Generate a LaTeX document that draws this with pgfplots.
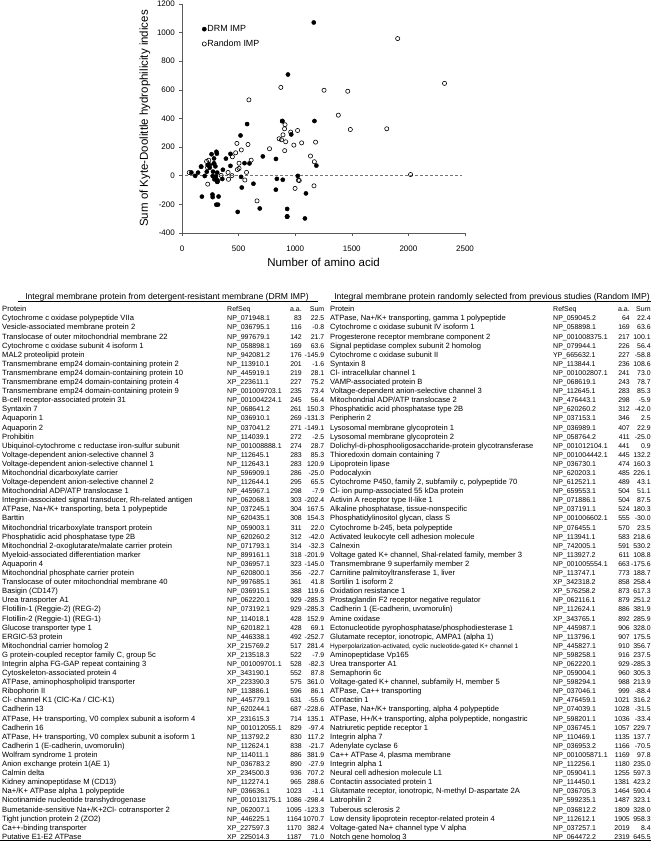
\documentclass[border=0pt]{standalone}
\usepackage{fontspec}
\setmainfont{Liberation Sans}
\usepackage{pgfplots}
\usepackage{pgfplotstable}
\pgfplotsset{compat=1.18}
\catcode`\_=12
\pgfplotstableread[col sep=semicolon]{
name;ref;aa;sum
Cytochrome c oxidase polypeptide VIIa;NP_071948.1;83;22.5
Vesicle-associated membrane protein 2;NP_036795.1;116;-0.8
Translocase of outer mitochondrial membrane 22;NP_997679.1;142;21.7
Cytochrome c oxidase subunit 4 isoform 1;NP_058898.1;169;63.6
MAL2 proteolipid protein;NP_942081.2;176;-145.9
Transmembrane emp24 domain-containing protein 2;NP_113910.1;201;-1.6
Transmembrane emp24 domain-containing protein 10;NP_445919.1;219;28.1
Transmembrane emp24 domain-containing protein 4;XP_223611.1;227;75.2
Transmembrane emp24 domain-containing protein 9;NP_001009703.1;235;73.4
B-cell receptor-associated protein 31;NP_001004224.1;245;56.4
Syntaxin 7;NP_068641.2;261;150.3
Aquaporin 1;NP_036910.1;269;-131.3
Aquaporin 2;NP_037041.2;271;-149.1
Prohibitin;NP_114039.1;272;-2.5
Ubiquinol-cytochrome c reductase iron-sulfur subunit;NP_001008888.1;274;28.7
Voltage-dependent anion-selective channel 3;NP_112645.1;283;85.3
Voltage-dependent anion-selective channel 1;NP_112643.1;283;120.9
Mitochondrial dicarboxylate carrier;NP_596909.1;286;-25.0
Voltage-dependent anion-selective channel 2;NP_112644.1;295;65.5
Mitochondrial ADP/ATP translocase 1;NP_445967.1;298;-7.9
Integrin-associated signal transducer, Rh-related antigen;NP_062068.1;303;-202.4
ATPase, Na+/K+ transporting, beta 1 polypeptide;NP_037245.1;304;167.5
Barttin;NP_620435.1;308;154.3
Mitochondrial tricarboxylate transport protein;NP_059003.1;311;22.0
Phosphatidic acid phosphatase type 2B;NP_620260.2;312;-42.0
Mitochondrial 2-oxoglutarate/malate carrier protein;NP_071793.1;314;-32.3
Myeloid-associated differentiation marker;NP_899161.1;318;-201.9
Aquaporin 4;NP_036957.1;323;-145.0
Mitochondrial phosphate carrier protein;NP_620800.1;356;-22.7
Translocase of outer mitochondrial membrane 40;NP_997685.1;361;41.8
Basigin (CD147);NP_036915.1;388;119.6
Urea transporter A1;NP_062220.1;929;-285.3
Flotillin-1 (Reggie-2) (REG-2);NP_073192.1;929;-285.3
Flotillin-2 (Reggie-1) (REG-1);NP_114018.1;428;152.9
Glucose transporter type 1;NP_620182.1;428;69.1
ERGIC-53 protein;NP_446338.1;492;-252.7
Mitochondrial carrier homolog 2;XP_215769.2;517;281.4
G protein-coupled receptor family C, group 5c;XP_213518.3;522;-7.9
Integrin alpha FG-GAP repeat containing 3;NP_001009701.1;528;-82.3
Cytoskeleton-associated protein 4;XP_343190.1;552;87.8
ATPase, aminophospholipid transporter;XP_223390.3;575;361.0
Ribophorin II;NP_113886.1;596;86.1
Cl- channel K1 (ClC-Ka / ClC-K1);NP_445779.1;631;-55.6
Cadherin 13;NP_620244.1;687;-228.6
ATPase, H+ transporting, V0 complex subunit a isoform 4;XP_231615.3;714;135.1
Cadherin 16;NP_001012055.1;829;-97.4
ATPase, H+ transporting, V0 complex subunit a isoform 1;NP_113792.2;830;117.2
Cadherin 1 (E-cadherin, uvomorulin);NP_112624.1;838;-21.7
Wolfram syndrome 1 protein;NP_114011.1;886;381.9
Anion exchange protein 1(AE 1);NP_036783.2;890;-27.9
Calmin delta;XP_234500.3;936;707.2
Kidney aminopeptidase M (CD13);NP_112274.1;965;288.6
Na+/K+ ATPase alpha 1 polypeptide;NP_036636.1;1023;-1.1
Nicotinamide nucleotide transhydrogenase;NP_001013175.1;1086;-298.4
Bumetanide-sensitive Na+/K+2Cl- cotransporter 2;NP_062007.1;1095;-123.3
Tight junction protein 2 (ZO2);NP_446225.1;1164;1070.7
Ca++-binding transporter;XP_227597.3;1170;382.4
Putative E1-E2 ATPase;XP_225014.3;1187;71.0
}\drm
\pgfplotstableread[col sep=semicolon]{
name;ref;aa;sum
ATPase, Na+/K+ transporting, gamma 1 polypeptide;NP_059045.2;64;22.4
Cytochrome c oxidase subunit IV isoform 1;NP_058898.1;169;63.6
Progesterone receptor membrane component 2;NP_001008375.1;217;100.1
Signal peptidase complex subunit 2 homolog;NP_079944.1;226;56.4
Cytochrome c oxidase subunit II;YP_665632.1;227;-58.8
Syntaxin 8;NP_113844.1;236;108.6
Cl- intracellular channel 1;NP_001002807.1;241;73.0
VAMP-associated protein B;NP_068619.1;243;78.7
Voltage-dependent anion-selective channel 3;NP_112645.1;283;85.3
Mitochondrial ADP/ATP translocase 2;NP_476443.1;298;-5.9
Phosphatidic acid phosphatase type 2B;NP_620260.2;312;-42.0
Peripherin 2;NP_037153.1;346;2.5
Lysosomal membrane glycoprotein 1;NP_036989.1;407;22.9
Lysosomal membrane glycoprotein 2;NP_058764.2;411;-25.0
Dolichyl-di-phosphooligosaccharide-protein glycotransferase;NP_001012104.1;441;0.9
Thioredoxin domain containing 7;NP_001004442.1;445;132.2
Lipoprotein lipase;NP_036730.1;474;160.3
Podocalyxin;NP_620203.1;485;226.1
Cytochrome P450, family 2, subfamily c, polypeptide 70;NP_612521.1;489;43.1
Cl- ion pump-associated 55 kDa protein;NP_659553.1;504;51.1
Activin A receptor type II-like 1;NP_071886.1;504;87.5
Alkaline phosphatase, tissue-nonspecific;NP_037191.1;524;180.3
Phosphatidylinositol glycan, class S;NP_001006602.1;555;-30.0
Cytochrome b-245, beta polypeptide;NP_076455.1;570;23.5
Activated leukocyte cell adhesion molecule;NP_113941.1;583;218.6
Calnexin;NP_742005.1;591;530.2
Voltage gated K+ channel, Shal-related family, member 3;NP_113927.2;611;108.8
Transmembrane 9 superfamily member 2;NP_001005554.1;663;-175.6
Carnitine palmitoyltransferase 1, liver;NP_113747.1;773;188.7
Sortilin 1 isoform 2;XP_342318.2;858;258.4
Oxidation resistance 1;XP_576258.2;873;617.3
Prostaglandin F2 receptor negative regulator;NP_062116.1;879;251.2
Cadherin 1 (E-cadherin, uvomorulin);NP_112624.1;886;381.9
Amine oxidase;XP_343765.1;892;285.9
Ectonucleotide pyrophosphatase/phosphodiesterase 1;NP_445987.1;906;328.0
Glutamate receptor, ionotropic, AMPA1 (alpha 1);NP_113796.1;907;175.5
Hyperpolarization-activated, cyclic nucleotide-gated K+ channel 1;NP_445827.1;910;356.7
Aminopeptidase Vp165;NP_598258.1;916;237.5
Urea transporter A1;NP_062220.1;929;-285.3
Semaphorin 6c;NP_059004.1;960;305.3
Voltage-gated K+ channel, subfamily H, member 5;NP_598294.1;988;213.9
ATPase, Ca++ transporting;NP_037046.1;999;-88.4
Contactin 1;NP_476459.1;1021;316.2
ATPase, Na+/K+ transporting, alpha 4 polypeptide;NP_074039.1;1028;-31.5
ATPase, H+/K+ transporting, alpha polypeptide, nongastric;NP_598201.1;1036;-33.4
Natriuretic peptide receptor 1;NP_036745.1;1057;229.7
Integrin alpha 7;NP_110469.1;1135;137.7
Adenylate cyclase 6;NP_036953.2;1166;-70.5
Ca++ ATPase 4, plasma membrane;NP_001005871.1;1169;97.8
Integrin alpha 1;NP_112256.1;1180;235.0
Neural cell adhesion molecule L1;NP_059041.1;1255;597.3
Contactin associated protein 1;NP_114450.1;1381;423.2
Glutamate receptor, ionotropic, N-methyl D-aspartate 2A;NP_036705.3;1464;590.4
Latrophilin 2;NP_599235.1;1487;323.1
Tuberous sclerosis 2;NP_036812.2;1809;328.0
Low density lipoprotein receptor-related protein 4;NP_112612.1;1905;958.3
Voltage-gated Na+ channel type V alpha;NP_037257.1;2019;8.4
Notch gene homolog 3;NP_064472.2;2319;645.5
}\rnd
\catcode`\_=8

\newcommand\namefont{\fontsize{7.6}{9}\selectfont}
\newcommand\reffont{\fontsize{7.0}{8}\selectfont}
\newcommand\numfont{\fontsize{6.9}{8}\selectfont}
\newcommand\drawtable[6]{%
  \foreach \i in {0,...,57}{%
    \pgfmathsetmacro\yy{522.1-\i*9.095}%
    \pgfplotstablegetelem{\i}{name}\of#1\let\tN\pgfplotsretval
    \pgfplotstablegetelem{\i}{ref}\of#1\let\tR\pgfplotsretval
    \pgfplotstablegetelem{\i}{aa}\of#1\let\tA\pgfplotsretval
    \pgfplotstablegetelem{\i}{sum}\of#1\let\tS\pgfplotsretval
    \ifnum\i=#6\relax\def\nf{\fontsize{6.5}{7}\selectfont}\else\def\nf{\namefont}\fi
    \node[anchor=base west] at (#2pt,\yy pt) {\nf\tN};
    \node[anchor=base west] at (#3pt,\yy pt) {\reffont\tR};
    \node[anchor=base east] at (#4pt,\yy pt) {\numfont\tA};
    \node[anchor=base east] at (#5pt,\yy pt) {\numfont\tS};
  }%
  \node[anchor=base west] at (#2pt,531.4pt) {\namefont Protein};
  \node[anchor=base west] at (#3pt,531.4pt) {\reffont RefSeq};
  \node[anchor=base east] at (#4pt,531.4pt) {\reffont a.a.};
  \node[anchor=base east] at (#5pt,531.4pt) {\reffont Sum};
}

\begin{document}
\begin{tikzpicture}
\path[use as bounding box] (0,0) rectangle (651pt,843pt);
\begin{axis}[
  at={(182pt,610pt)}, anchor=south west,
  width=283pt, height=229pt, scale only axis,
  xmin=0, xmax=2500, ymin=-400, ymax=1200,
  axis lines=left,
  axis line style={-, draw=black!65, line width=0.6pt},
  xtick={0,500,1000,1500,2000,2500},
  xticklabels={0,500,1000,1500,2000,2500},
  ytick={-400,-200,0,200,400,600,800,1000,1200},
  yticklabels={-400,-200,0,200,400,600,800,1000,1200},
  tick align=outside, major tick length=3pt,
  tick style={black!65, line width=0.6pt},
  ticklabel style={font=\fontsize{8}{9}\selectfont},
  xticklabel style={inner sep=0pt, anchor=north, yshift=-9.5pt},
  yticklabel style={inner sep=0pt, anchor=east, xshift=-4pt},
  xlabel={Number of amino acid},
  ylabel={Sum of Kyte-Doolittle hydrophilicity indices},
  label style={font=\fontsize{11.5}{13}\selectfont},
  xlabel style={at={(axis description cs:0.5,-0.1266)}, anchor=center},
  ylabel style={at={(axis description cs:-0.1307,0.5)}, anchor=center},
  legend style={at={(axis description cs:0.0707,0.912)}, anchor=north west,
    draw=none, fill=none, font=\fontsize{8.9}{10}\selectfont,
    inner sep=0pt, row sep=5pt, nodes={inner sep=1pt}},
  legend cell align=left,
  legend image code/.code={\draw[mark repeat=2,mark phase=2,#1] plot coordinates {(0pt,0pt) (2pt,0pt) (4pt,0pt)};},
]
\addlegendimage{only marks, mark=*, mark size=2.1pt, black}
\addlegendentry{DRM IMP}
\addlegendimage{only marks, mark=o, mark size=2.1pt, black, mark options={fill=white, line width=0.6pt}}
\addlegendentry{Random IMP}
\addplot[black!55, dashed, dash pattern=on 3pt off 2pt, line width=0.6pt, forget plot] coordinates {(30,0) (2470,0)};
\addplot[only marks, mark=o, mark size=2.1pt, black, mark options={fill=white, line width=0.6pt}, forget plot] table[x=aa, y=sum] {\rnd};
\addplot[only marks, mark=*, mark size=2.1pt, black, forget plot] table[x=aa, y=sum] {\drm};
\addplot[only marks, mark=*, mark size=2.1pt, black, forget plot] coordinates {(929,-232)};
\end{axis}
\begin{scope}[every node/.style={inner sep=0pt}]
\drawtable{\drm}{2}{227}{302}{324.5}{-1}
\drawtable{\rnd}{330}{553}{630}{650.8}{36}
\node[anchor=base, font=\fontsize{8.6}{10}\selectfont] at (167pt,543.3pt) {Integral membrane protein from detergent-resistant membrane (DRM IMP)};
\node[anchor=base, font=\fontsize{8.6}{10}\selectfont] at (492pt,543.3pt) {Integral membrane protein randomly selected from previous studies (Random IMP)};
\end{scope}
\draw[line width=0.7pt] (18pt,542pt) -- (318pt,542pt);
\draw[line width=0.7pt] (331pt,542pt) -- (651pt,542pt);
\draw[line width=1pt] (0pt,2.5pt) -- (651pt,2.5pt);
\end{tikzpicture}
\end{document}
